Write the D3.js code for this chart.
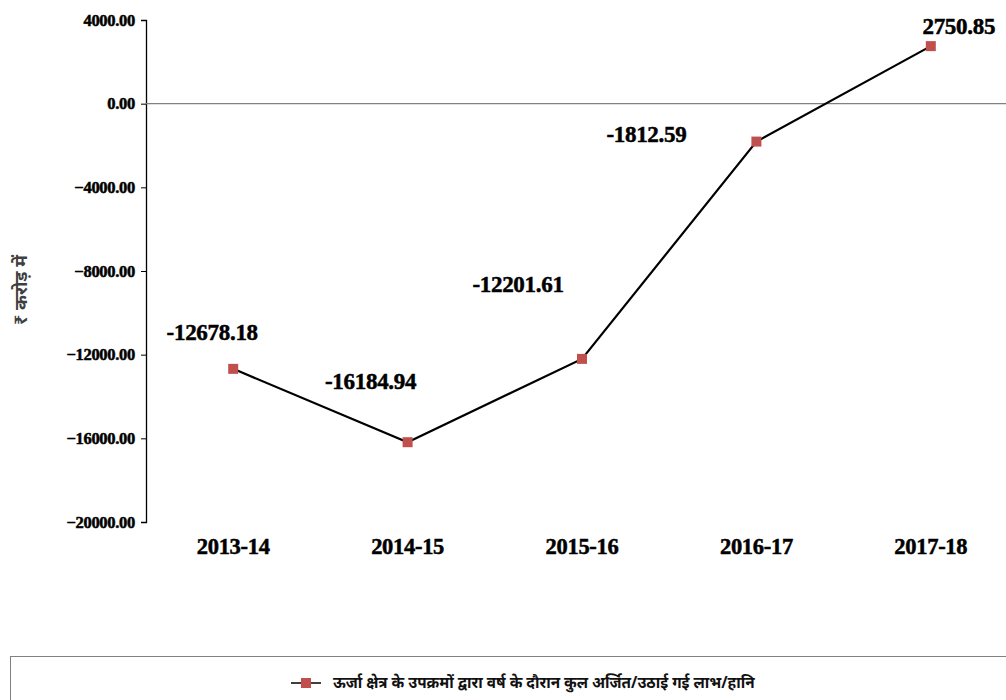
<!DOCTYPE html>
<html>
<head>
<meta charset="utf-8">
<script src="https://cdn.jsdelivr.net/npm/d3@7"></script>
<style>
  body { margin: 0; background: #fff; }
  svg { display: block; }
  .heavy { stroke: #000; stroke-width: 0.5px; }
</style>
</head>
<body>
<svg id="chart" width="1006" height="700"></svg>
<script>
const years = ['2013-14', '2014-15', '2015-16', '2016-17', '2017-18'];
const profitLoss = [-12678.18, -16184.94, -12201.61, -1812.59, 2750.85];
const yTicks = [4000, 0, -4000, -8000, -12000, -16000, -20000];
const seriesName = 'ऊर्जा क्षेत्र के उपक्रमों द्वारा वर्ष के दौरान कुल अर्जित/उठाई गई लाभ/हानि';
const yTitle = '₹ करोड़ में';

const svg = d3.select('#chart');
const serif = '"Liberation Serif", "Times New Roman", serif';

const x = d3.scaleBand().domain(years).range([146, 1018]);
const y = d3.scaleLinear().domain([-20000, 4000]).range([522, 20]);

// y axis
const yAxis = svg.append('g')
  .attr('transform', 'translate(146,0)')
  .call(d3.axisLeft(y).tickValues(yTicks).tickSize(5).tickFormat(d3.format('.2f')));
yAxis.select('.domain').attr('stroke', '#000').attr('stroke-width', 1.3);
yAxis.selectAll('.tick line').attr('stroke', '#000');
yAxis.selectAll('.tick text')
  .attr('x', -11)
  .attr('class', 'heavy')
  .attr('font-family', serif)
  .attr('font-weight', 'bold')
  .attr('font-size', 16.5)
  .attr('letter-spacing', -0.3)
  .attr('fill', '#000');

// zero line
svg.append('line')
  .attr('x1', 146).attr('x2', 1006)
  .attr('y1', y(0)).attr('y2', y(0))
  .attr('stroke', '#808080').attr('stroke-width', 1.2);

// x labels
svg.append('g').selectAll('text')
  .data(years)
  .join('text')
  .attr('class', 'heavy')
  .attr('x', d => x(d) + x.bandwidth() / 2)
  .attr('y', 554)
  .attr('text-anchor', 'middle')
  .attr('font-family', serif)
  .attr('font-weight', 'bold')
  .attr('font-size', 22.5)
  .attr('letter-spacing', -0.3)
  .text(d => d);

// y title
svg.append('text')
  .attr('transform', 'translate(27,290) rotate(-90)')
  .attr('text-anchor', 'middle')
  .attr('font-family', '"Noto Sans", sans-serif')
  .attr('font-weight', 'bold')
  .attr('font-size', 18)
  .attr('fill', '#404040')
  .text(yTitle);

// line
const line = d3.line()
  .x((d, i) => x(years[i]) + x.bandwidth() / 2)
  .y(d => y(d));
svg.append('path')
  .datum(profitLoss)
  .attr('d', line)
  .attr('fill', 'none')
  .attr('stroke', '#000')
  .attr('stroke-width', 2.2);

// markers
svg.append('g').selectAll('rect')
  .data(profitLoss)
  .join('rect')
  .attr('x', (d, i) => x(years[i]) + x.bandwidth() / 2 - 5)
  .attr('y', d => y(d) - 5)
  .attr('width', 10).attr('height', 10)
  .attr('fill', '#c0504d');

// data labels
const labelOffsets = [[-21, -29], [-37, -53], [-64, -67], [-110, 0], [28, -12]];
svg.append('g').selectAll('text')
  .data(profitLoss)
  .join('text')
  .attr('class', 'heavy')
  .attr('x', (d, i) => x(years[i]) + x.bandwidth() / 2 + labelOffsets[i][0])
  .attr('y', (d, i) => y(d) + labelOffsets[i][1])
  .attr('text-anchor', 'middle')
  .attr('font-family', serif)
  .attr('font-weight', 'bold')
  .attr('font-size', 23)
  .attr('letter-spacing', -0.3)
  .text(d => d.toFixed(2));

// legend
svg.append('rect')
  .attr('x', 10.5).attr('y', 656.5)
  .attr('width', 1000).attr('height', 60)
  .attr('fill', 'none').attr('stroke', '#808080').attr('stroke-width', 1);
svg.append('line')
  .attr('x1', 291).attr('x2', 321).attr('y1', 683).attr('y2', 683)
  .attr('stroke', '#000').attr('stroke-width', 1.5);
svg.append('rect')
  .attr('x', 301).attr('y', 678).attr('width', 10).attr('height', 10)
  .attr('fill', '#c0504d');
svg.append('text')
  .attr('x', 333).attr('y', 688)
  .attr('font-family', '"Noto Sans", sans-serif')
  .attr('font-weight', 'bold')
  .attr('font-size', 15.3)
  .attr('fill', '#111')
  .text(seriesName);
</script>
</body>
</html>
